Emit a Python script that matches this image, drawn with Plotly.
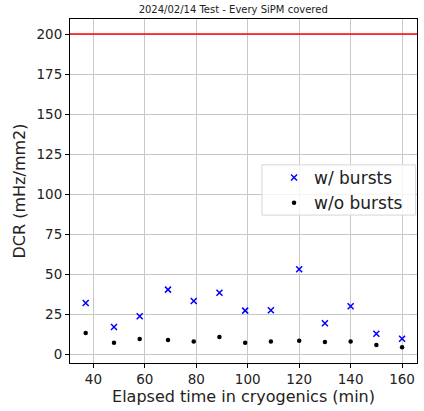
import plotly.graph_objects as go

time_min = [37, 48, 58, 69, 79, 89, 99, 109, 120, 130, 140, 150, 160]
dcr_with_bursts = [32.1, 17.1, 23.8, 40.4, 33.3, 38.5, 27.3, 27.5, 53.1, 19.4, 30.0, 12.9, 9.8]
dcr_without_bursts = [13.3, 7.3, 9.6, 9.0, 8.1, 10.8, 7.3, 8.1, 8.5, 7.7, 8.1, 5.8, 4.4]
err_with = [0.6] * 13
err_without = [0.3] * 13
threshold = 200

font = "DejaVu Sans"
fig = go.Figure()
fig.add_trace(go.Scatter(
    x=time_min, y=dcr_with_bursts, mode="markers", name="w/ bursts",
    marker=dict(symbol="x-thin", size=6, color="blue", line=dict(width=1.5, color="blue")),
    error_y=dict(type="data", array=err_with, color="blue", thickness=1, width=0),
))
fig.add_trace(go.Scatter(
    x=time_min, y=dcr_without_bursts, mode="markers", name="w/o bursts",
    marker=dict(symbol="circle", size=4.5, color="black"),
    error_y=dict(type="data", array=err_without, color="black", thickness=1, width=0),
))
fig.add_shape(type="line", xref="paper", x0=0, x1=1, yref="y", y0=threshold, y1=threshold,
              line=dict(color="red", width=1.5))
# legend frame
fig.add_shape(type="rect", xref="paper", yref="paper", x0=0.553, x1=0.996, y0=0.430, y1=0.576,
              line=dict(color="#d6d6d6", width=1), fillcolor="rgba(255,255,255,0.8)", layer="above")

axis_common = dict(
    showline=True, linecolor="black", linewidth=1, mirror=True,
    ticks="outside", ticklen=4, tickcolor="black",
    showgrid=True, gridcolor="#c8c8c8", gridwidth=1, zeroline=False,
    tickfont=dict(family=font, size=13.5, color="#222"),
)
fig.update_layout(
    width=424, height=411,
    margin=dict(l=70, r=7, t=19, b=48),
    paper_bgcolor="white", plot_bgcolor="white",
    title=dict(text="2024/02/14 Test - Every SiPM covered", x=0.55, xanchor="center",
               y=0.978, yanchor="middle", font=dict(family=font, size=10, color="#222")),
    xaxis=dict(range=[30.9, 165.8], tickvals=[40, 60, 80, 100, 120, 140, 160],
               title=dict(text="Elapsed time in cryogenics (min)", font=dict(family=font, size=16, color="#222"), standoff=2),
               **axis_common),
    yaxis=dict(range=[-5.4, 209.4], tickvals=[0, 25, 50, 75, 100, 125, 150, 175, 200],
               title=dict(text="DCR (mHz/mm2)", font=dict(family=font, size=16, color="#222"), standoff=6),
               **axis_common),
    legend=dict(x=0.588, y=0.590, xanchor="left", yanchor="top",
                font=dict(family=font, size=17, color="#222"),
                bgcolor="rgba(0,0,0,0)", borderwidth=0,
                itemsizing="trace", itemwidth=30),
    showlegend=True,
)
fig.write_html("out.html")
